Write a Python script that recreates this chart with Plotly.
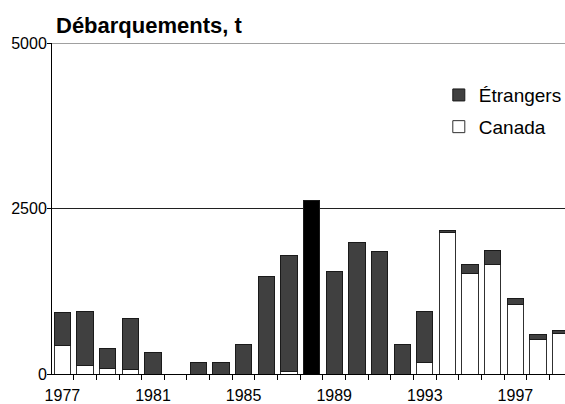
import plotly.graph_objects as go

years = list(range(1977, 2000))
canada = [437, 136, 90, 69, 0, 0, 0, 0, 0, 0, 45, 0, 0, 0, 0, 0, 170, 2140, 1516, 1647, 1049, 522, 618]
totals = [928, 943, 386, 838, 321, 0, 170, 170, 441, 1480, 1793, 2616, 1546, 1979, 1853, 446, 949, 2175, 1647, 1869, 1135, 592, 663]
etrangers = [t - c for t, c in zip(totals, canada)]
highlight_year = 1988
x_labels = [1977, 1981, 1985, 1989, 1993, 1997]
y_ticks = [0, 2500, 5000]

FONT = "Liberation Sans, Arial, sans-serif"
etr_colors = ["#000000" if y == highlight_year else "#404040" for y in years]

fig = go.Figure()
fig.add_trace(go.Bar(
    x=years, y=canada, name="Canada", legendgroup="c", legendrank=2,
    marker=dict(color="#ffffff", line=dict(color="#303030", width=1)),
    width=0.72,
))
fig.add_trace(go.Bar(
    x=years, y=etrangers, name="Étrangers", legendgroup="e", legendrank=1,
    marker=dict(color=etr_colors, line=dict(color="#1a1a1a", width=1)),
    width=0.72,
))

fig.update_layout(
    barmode="stack",
    width=565, height=404,
    margin=dict(l=52, r=0, t=43, b=29.5, autoexpand=False),
    paper_bgcolor="white", plot_bgcolor="white",
    font=dict(family=FONT, size=16, color="#000000"),
    title=dict(text="<b>Débarquements, t</b>", x=56/565, xanchor="left", xref="container",
               y=1 - 25/404, yanchor="middle", yref="container",
               pad=dict(l=0, r=0, t=0, b=0),
               font=dict(family=FONT, size=22, color="#000000")),
    showlegend=True,
    legend=dict(x=0.754, y=0.90, xanchor="left", yanchor="top",
                traceorder="grouped", tracegroupgap=4,
                font=dict(family=FONT, size=19, color="#000000"),
                bgcolor="rgba(0,0,0,0)"),
    shapes=[dict(type="line", xref="paper", x0=0, x1=1, yref="y", y0=y_ticks[-1], y1=y_ticks[-1],
                 line=dict(color="#808080", width=1.5), layer="below")],
)
fig.update_xaxes(
    range=[1976.54, 1999.19], automargin=False,
    tickmode="array", tickvals=x_labels, ticktext=[str(v) for v in x_labels],
    ticks="", showgrid=False, zeroline=False,
    showline=True, linecolor="#000000", linewidth=1,
    tickfont=dict(family=FONT, size=16),
    ticklabelstandoff=7,
    minor=dict(tick0=1976.5, dtick=1, ticks="outside", ticklen=5, tickcolor="#000000", tickwidth=1, showgrid=False),
)
fig.update_yaxes(
    range=[0, 5000], automargin=False,
    tickmode="array", tickvals=y_ticks, ticktext=[str(v) for v in y_ticks],
    ticks="outside", ticklen=4, tickcolor="#000000",
    ticklabelstandoff=-3,
    showgrid=True, gridcolor="#202020", gridwidth=1,
    zeroline=False,
    showline=True, linecolor="#000000", linewidth=1,
    tickfont=dict(family=FONT, size=16),
)

fig.write_html("out.html", config={"displayModeBar": False},
               post_script="document.body.style.margin='0';")
